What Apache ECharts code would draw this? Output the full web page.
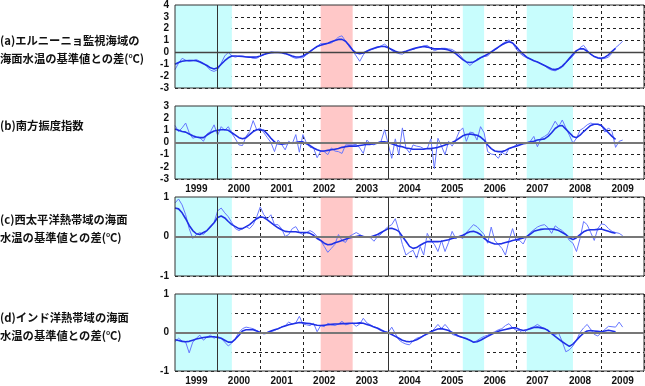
<!DOCTYPE html>
<html><head><meta charset="utf-8">
<script src="https://cdn.jsdelivr.net/npm/echarts@6/dist/echarts.min.js"></script>
<style>html,body{margin:0;padding:0;background:#fff}#c{width:645px;height:386px}</style>
</head><body><div id="c"></div>
<script>
// x = month index from Jan 1999 (0) ; axis spans 1999-01 .. 2010-01
const years = ['1999','2000','2001','2002','2003','2004','2005','2006','2007','2008','2009'];
const titlesA = ['(a)エルニーニョ監視海域の','海面水温の基準値との差(℃)'];
const titlesB = ['(b)南方振度指数'];
const titlesC = ['(c)西太平洋熱帯域の海面','水温の基準値との差(℃)'];
const titlesD = ['(d)インド洋熱帯域の海面','水温の基準値との差(℃)'];
// shaded periods [startMonth, endMonth]
const laNina = [[0,16],[81,87],[99,112]];
const elNino = [[41,50]];

const ninoMonthly = [-1.45,-0.9,-0.5,-0.65,-0.75,-0.7,-0.6,-0.75,-0.9,-1.2,-1.5,-1.6,
-1.45,-0.9,-0.3,0.0,-0.3,-0.4,-0.3,-0.3,-0.35,-0.4,-0.5,-0.5,
-0.3,-0.2,-0.05,0.05,0.0,0.0,0.0,-0.05,-0.2,-0.4,-0.5,-0.45,
-0.45,-0.2,0.0,0.3,0.5,0.75,0.7,0.75,0.8,1.0,1.3,1.4,
0.95,0.5,0.15,-0.3,-0.75,-0.2,0.15,0.2,0.3,0.4,0.55,0.7,
0.45,0.15,0.0,-0.1,-0.15,0.05,0.2,0.25,0.35,0.45,0.55,0.6,
0.35,0.15,0.25,0.35,0.35,0.3,0.25,0.05,-0.15,-0.5,-0.85,-1.1,
-0.85,-0.55,-0.45,-0.35,-0.3,0.0,0.2,0.4,0.7,0.9,1.05,0.8,
0.3,-0.05,-0.3,-0.45,-0.55,-0.7,-0.8,-0.95,-1.1,-1.35,-1.5,-1.55,
-1.4,-1.25,-0.9,-0.6,-0.3,0.1,0.4,0.6,0.2,-0.15,-0.35,-0.5,
-0.55,-0.5,-0.4,-0.05,0.4,0.65,0.95];
const ninoSmooth = [-1.0,-0.85,-0.75,-0.7,-0.68,-0.68,-0.7,-0.8,-0.95,-1.1,-1.3,-1.4,
-1.3,-1.0,-0.7,-0.45,-0.3,-0.3,-0.32,-0.35,-0.38,-0.4,-0.4,-0.38,
-0.3,-0.18,-0.08,-0.02,0.0,0.0,-0.03,-0.1,-0.2,-0.3,-0.38,-0.38,
-0.3,-0.12,0.08,0.3,0.5,0.6,0.7,0.78,0.9,1.0,1.1,1.1,
0.95,0.6,0.2,-0.05,-0.1,-0.05,0.1,0.25,0.35,0.45,0.5,0.5,
0.4,0.25,0.1,0.0,0.02,0.1,0.2,0.3,0.4,0.45,0.5,0.45,
0.38,0.3,0.3,0.3,0.28,0.2,0.08,-0.1,-0.35,-0.6,-0.8,-0.85,
-0.8,-0.65,-0.45,-0.3,-0.15,0.05,0.25,0.45,0.65,0.8,0.9,0.8,
0.5,0.15,-0.15,-0.4,-0.55,-0.7,-0.8,-0.95,-1.1,-1.25,-1.4,-1.45,
-1.35,-1.15,-0.85,-0.5,-0.15,0.15,0.3,0.3,0.1,-0.15,-0.35,-0.45,
-0.5,-0.4,-0.2,0.1,0.35];

const soiMonthly = [1.4,0.9,1.2,1.6,0.8,0.35,0.45,0.4,0.1,0.7,0.9,1.45,
0.6,1.3,1.0,1.3,0.75,0.3,-0.2,-0.25,0.5,0.9,1.8,1.05,
1.2,0.8,0.4,0.0,-0.75,0.2,-0.15,-0.6,0.1,-0.1,0.65,-0.8,
0.65,-0.05,-0.4,-0.45,-1.25,-0.7,-0.75,-1.0,-0.45,-0.7,-0.75,-0.9,
-0.2,-0.2,-0.2,-0.15,-0.45,-0.9,0.2,-0.1,-0.2,0.0,0.1,1.05,
-0.1,-1.3,0.3,-1.0,1.2,-0.45,-0.85,-0.2,-0.3,-0.35,-0.5,-0.5,
0.3,-2.15,0.35,-0.3,-1.0,0.1,-0.3,0.2,0.9,1.2,0.1,0.85,
0.8,0.2,1.3,0.8,-0.75,-0.95,-1.0,-1.3,-0.8,-1.0,-0.5,-0.4,
-0.2,-0.2,-0.1,0.0,0.1,0.5,-0.35,0.35,0.5,0.7,1.2,1.75,
1.3,1.85,1.2,0.6,-0.05,0.35,1.0,1.2,1.45,1.6,1.5,1.5,
1.45,0.85,1.2,0.9,-0.4,0.1,0.2];
const soiSmooth = [1.1,1.0,0.9,0.85,0.7,0.55,0.45,0.4,0.4,0.6,0.8,0.95,
1.0,1.05,1.05,1.0,0.8,0.6,0.4,0.3,0.4,0.65,0.9,1.05,
1.05,1.0,0.7,0.35,0.05,-0.1,-0.15,-0.1,-0.05,-0.05,0.0,0.05,
0.05,-0.1,-0.25,-0.45,-0.6,-0.7,-0.7,-0.65,-0.6,-0.55,-0.5,-0.4,
-0.35,-0.3,-0.3,-0.3,-0.25,-0.2,-0.15,-0.15,-0.1,-0.05,0.05,0.05,
0.0,-0.1,-0.2,-0.3,-0.35,-0.45,-0.5,-0.55,-0.55,-0.55,-0.55,-0.5,
-0.5,-0.45,-0.4,-0.3,-0.2,-0.1,0.0,0.15,0.35,0.55,0.65,0.7,
0.65,0.6,0.45,0.2,-0.2,-0.5,-0.7,-0.75,-0.75,-0.65,-0.5,-0.4,
-0.3,-0.2,-0.1,-0.05,0.05,0.1,0.2,0.25,0.3,0.5,0.8,1.15,
1.35,1.4,1.1,0.8,0.5,0.4,0.6,0.9,1.15,1.4,1.5,1.5,
1.4,1.1,0.8,0.5,0.25];

const wpMonthly = [0.85,0.95,0.8,0.55,0.2,-0.05,0.05,0.1,0.05,0.15,0.25,0.35,
0.65,0.72,0.6,0.5,0.35,0.2,0.15,0.2,0.25,0.2,0.3,0.5,
0.75,0.55,0.45,0.55,0.3,0.3,0.2,0.0,0.05,0.2,0.25,0.1,
0.05,0.1,0.15,0.1,0.0,-0.1,-0.25,-0.4,-0.3,-0.2,0.05,-0.1,
-0.15,0.0,0.05,0.1,0.05,0.0,-0.02,-0.03,-0.12,0.0,0.06,0.17,
0.25,0.3,0.45,0.15,-0.2,-0.47,-0.4,-0.35,-0.55,-0.25,-0.47,0.08,
-0.1,-0.2,-0.38,-0.1,-0.38,-0.15,0.13,-0.05,0.0,-0.05,0.1,0.2,
0.3,0.25,0.15,0.05,-0.17,0.24,-0.1,-0.2,-0.3,-0.47,-0.1,0.2,
-0.1,-0.1,-0.19,0.0,0.1,0.17,0.24,0.28,0.3,0.22,0.08,0.27,
0.2,0.15,0.05,-0.1,-0.17,-0.38,-0.05,0.38,0.3,0.1,-0.1,0.2,
0.32,0.3,0.2,0.13,0.1,0.08,0.02];
const wpSmooth = [0.72,0.7,0.6,0.45,0.28,0.15,0.07,0.05,0.1,0.15,0.25,0.35,
0.48,0.52,0.47,0.38,0.3,0.25,0.2,0.2,0.25,0.3,0.38,0.45,
0.5,0.48,0.42,0.35,0.28,0.22,0.17,0.13,0.12,0.12,0.12,0.1,
0.1,0.1,0.08,0.03,-0.05,-0.1,-0.17,-0.21,-0.2,-0.16,-0.13,-0.1,
-0.07,-0.04,-0.02,0.0,0.02,0.0,-0.02,-0.01,0.02,0.05,0.1,0.15,
0.2,0.21,0.18,0.13,0.0,-0.12,-0.25,-0.3,-0.28,-0.22,-0.17,-0.13,
-0.13,-0.13,-0.13,-0.12,-0.1,-0.08,-0.05,-0.03,0.0,0.03,0.08,0.12,
0.13,0.1,0.05,-0.05,-0.12,-0.16,-0.19,-0.19,-0.18,-0.15,-0.13,-0.1,
-0.08,-0.06,-0.04,0.0,0.06,0.13,0.16,0.18,0.19,0.19,0.19,0.18,
0.15,0.1,0.05,-0.03,-0.08,-0.03,0.05,0.12,0.16,0.17,0.17,0.18,
0.19,0.16,0.13,0.1,0.08];

const ioMonthly = [-0.24,-0.15,-0.22,-0.25,-0.53,-0.25,-0.15,-0.07,-0.2,-0.12,-0.07,-0.15,
-0.1,-0.15,-0.25,-0.35,-0.27,-0.15,0.0,0.1,0.14,0.12,0.1,0.05,
0.0,-0.04,-0.02,0.02,0.05,0.1,0.14,0.18,0.27,0.22,0.25,0.42,
0.22,0.2,0.18,0.24,0.02,0.18,0.15,0.24,0.2,0.18,0.22,0.29,
0.2,0.22,0.24,0.16,0.22,0.37,0.25,0.2,0.15,0.12,0.08,0.03,
0.0,0.14,-0.03,-0.19,-0.26,-0.3,-0.32,-0.22,-0.15,-0.12,-0.08,-0.05,
0.0,0.1,0.21,0.1,0.21,0.1,-0.05,-0.08,-0.11,-0.13,-0.15,-0.2,
-0.26,-0.21,-0.15,-0.1,-0.07,-0.02,0.02,0.07,0.1,0.18,0.23,0.12,
0.06,0.05,-0.03,0.06,0.12,0.15,0.21,0.15,0.1,0.06,-0.03,-0.05,
-0.02,-0.24,-0.5,-0.45,-0.35,-0.2,0.0,0.12,0.21,0.08,-0.05,-0.09,
0.0,0.08,0.16,0.15,0.14,0.27,0.14];
const ioSmooth = [-0.19,-0.21,-0.23,-0.24,-0.23,-0.2,-0.17,-0.15,-0.13,-0.12,-0.11,-0.11,
-0.13,-0.15,-0.2,-0.25,-0.25,-0.17,-0.07,0.04,0.07,0.07,0.07,0.04,
0.0,-0.01,0.0,0.04,0.07,0.1,0.14,0.17,0.2,0.22,0.24,0.26,
0.25,0.24,0.23,0.21,0.19,0.18,0.19,0.2,0.21,0.22,0.22,0.23,
0.23,0.24,0.24,0.24,0.25,0.24,0.21,0.18,0.14,0.11,0.06,0.02,
-0.01,-0.05,-0.1,-0.15,-0.2,-0.23,-0.24,-0.22,-0.19,-0.14,-0.08,-0.03,
0.02,0.06,0.09,0.1,0.08,0.05,0.0,-0.05,-0.1,-0.13,-0.16,-0.2,
-0.25,-0.24,-0.2,-0.15,-0.1,-0.05,-0.01,0.03,0.06,0.08,0.1,0.12,
0.12,0.08,0.05,0.07,0.1,0.13,0.14,0.12,0.1,0.05,-0.03,-0.1,
-0.17,-0.24,-0.3,-0.36,-0.3,-0.2,-0.1,-0.02,0.04,0.05,0.04,0.03,
0.02,0.04,0.06,0.04,0.02];

const panels = [
  {titles: titlesA, thin: ninoMonthly, thick: ninoSmooth, min:-3, max:4, step:1, top:3, height:85, yearLabels:false, titleY:43},
  {titles: titlesB, thin: soiMonthly, thick: soiSmooth, min:-3, max:3, step:1, top:106, height:73, yearLabels:true, titleY:128},
  {titles: titlesC, thin: wpMonthly, thick: wpSmooth, min:-1, max:1, step:0.5, top:197, height:79, yearLabels:false, titleY:222},
  {titles: titlesD, thin: ioMonthly, thick: ioSmooth, min:-1, max:1, step:0.5, top:294, height:80, yearLabels:true, titleY:320}
];

const chart = echarts.init(document.getElementById('c'), null, {renderer:'canvas'});
const grid=[], xAxis=[], yAxis=[], series=[], graphic=[];
const dash = {type:[3,3], color:'#222', width:1};
panels.forEach((p,i)=>{
  grid.push({left:175, width:469, top:p.top, height:p.height, show:true, borderColor:'#333', borderWidth:1, backgroundColor:'transparent', z:5});
  const xi = xAxis.length;
  xAxis.push({type:'value', gridIndex:i, min:0, max:132, interval:12,
    axisLine:{show:false}, axisTick:{show:false}, axisLabel:{show:false},
    splitLine:{show:true, lineStyle:dash}, z:1});
  const yi = yAxis.length;
  yAxis.push({type:'value', gridIndex:i, min:p.min, max:p.max, interval:p.step,
    axisLine:{show:false}, axisTick:{show:false},
    axisLabel:{margin:6, color:'#111', fontSize:10, fontWeight:'bold', fontFamily:'Liberation Sans, Arial',
      formatter:v=> (Math.abs(v-Math.round(v))<1e-9 ? String(Math.round(v)) : '')},
    splitLine:{show:true, lineStyle:dash}, z:1});
  if(p.yearLabels){
    xAxis.push({type:'category', gridIndex:i, data:years, boundaryGap:true, position:'bottom',
      axisLine:{show:false}, axisTick:{show:false}, splitLine:{show:false},
      axisLabel:{margin:5, color:'#111', fontSize:10, fontWeight:'bold', fontFamily:'Liberation Sans, Arial'}});
  }
  const shade = [];
  laNina.forEach(r=>shade.push([{xAxis:r[0], itemStyle:{color:'#c8fdfd'}},{xAxis:r[1]}]));
  elNino.forEach(r=>shade.push([{xAxis:r[0], itemStyle:{color:'#ffc8c8'}},{xAxis:r[1]}]));
  series.push({type:'line', xAxisIndex:xi, yAxisIndex:yi, data:[], z:0, silent:true,
    markArea:{silent:true, data:shade}});
  series.push({type:'line', xAxisIndex:xi, yAxisIndex:yi, z:2, silent:true, symbol:'none',
    data:[], markLine:{silent:true, symbol:'none', label:{show:false},
      data:[{xAxis:12, lineStyle:{color:'#333', width:1, type:'solid'}},
            {xAxis:60, lineStyle:{color:'#333', width:1, type:'solid'}},
            {yAxis:0, lineStyle:{color: i===0 ? '#444' : '#777', width: i===0 ? 1.3 : 2, type:'solid'}}]}});
  series.push({type:'line', xAxisIndex:xi, yAxisIndex:yi, z:3, symbol:'none', silent:true,
    lineStyle:{color:'#6676ff', width:1}, data:p.thin.map((v,k)=>[k,v])});
  series.push({type:'line', xAxisIndex:xi, yAxisIndex:yi, z:4, symbol:'none', silent:true,
    lineStyle:{color:'#1f30e6', width:1.6}, data:p.thick.map((v,k)=>[k,v])});
  p.titles.forEach((t,k)=>{
    graphic.push({type:'text', left:0, top: p.titleY - 8 + k*18,
      style:{text:t, fill:'#111', font:'bold 11.3px "Noto Sans CJK JP", sans-serif'}});
  });
});
chart.setOption({animation:false, grid, xAxis, yAxis, series, graphic});
</script></body></html>
